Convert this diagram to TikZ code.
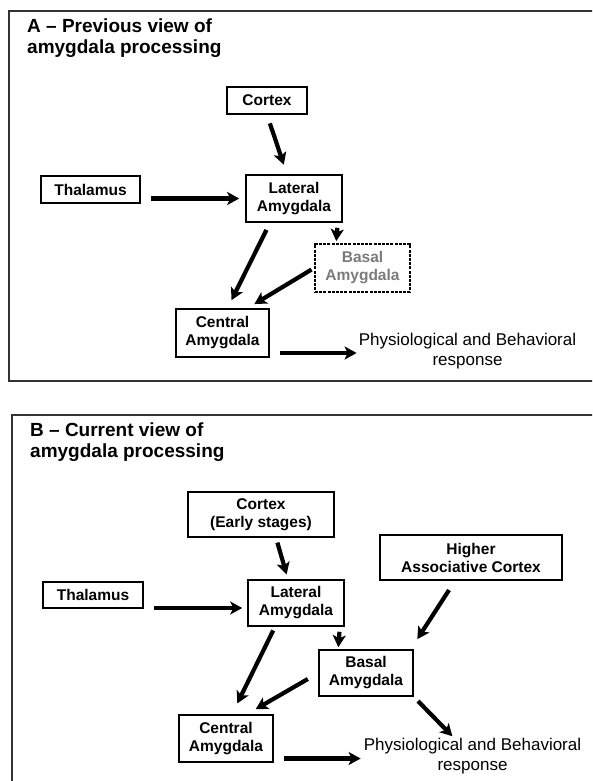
\documentclass[tikz,border=0pt]{standalone}
\usepackage{fontspec}
\setmainfont{Liberation Sans}
\usetikzlibrary{arrows.meta, calc}

\begin{document}
\begin{tikzpicture}[x=1pt, y=-1pt,
    box/.style={draw, line width=1.6pt, inner sep=0pt, align=center, font=\bfseries\fontsize{15.5}{18}\selectfont},
    dbox/.style={box, line width=1.8pt, dash pattern=on 3pt off 1.2pt, text=black!52},
    arr/.style={line width=4.2pt, -{Stealth[length=12pt, width=13pt, inset=3pt]}},
    panel/.style={draw=black!80, line width=1.5pt},
    ttl/.style={anchor=north west, inner sep=0pt, align=left, font=\bfseries\fontsize{19}{20.5}\selectfont},
    resp/.style={align=center, inner sep=0pt, font=\fontsize{17}{20}\selectfont}]
      \useasboundingbox (0,0) rectangle (592,781);
      \clip (0,0) rectangle (592,781);

      % panel A
      \draw[panel] (600,11) -- (9,11) -- (9,381) -- (600,381);
      \node[ttl] (titleA) at (27,19) {A -- Previous view of\\amygdala processing};
      \node[box, minimum width=80, minimum height=27] (cortA) at (267,100.5) {Cortex};
      \node[box, minimum width=99, minimum height=27] (thalA) at (90.5,189.5) {Thalamus};
      \node[box, minimum width=96, minimum height=47] (latA) at (294,198.5) {Lateral\\Amygdala};
      \node[dbox, minimum width=95, minimum height=48] (basA) at (362.5,268) {Basal\\Amygdala};
      \node[box, minimum width=93, minimum height=48] (centA) at (222.5,333) {Central\\Amygdala};
      \node[resp] (respA) at (467.5,351) {Physiological and Behavioral\\response};
      \draw[arr, shorten <=9pt, shorten >=10pt] (cortA.south) -- ($(latA.north)+(-7,0)$);
      \draw[arr, shorten <=10pt, shorten >=6pt] (thalA.east |- latA.west) -- (latA.west);
      \draw[arr, shorten <=5pt, shorten >=2pt] ($(latA.south east)+(-5,0)$) -- ($(basA.north west)+(22,0)$);
      \draw[arr, shorten <=8pt, shorten >=9pt] ($(latA.south)+(-24,0)$) -- ($(centA.north)+(5,0)$);
      \draw[arr, shorten <=3pt, shorten >=8pt] (basA.west) -- ($(centA.north)+(25,0)$);
      \draw[arr, shorten <=10pt, shorten >=2pt] ([yshift=-20pt]centA.east) -- ([yshift=-20pt]centA.east -| respA.west);

      % panel B
      \draw[panel] (600,415) -- (12,415) -- (12,790);
      \node[ttl] (titleB) at (30,423) {B -- Current view of\\amygdala processing};
      \node[box, minimum width=146, minimum height=45] (cortB) at (261,514.5) {Cortex\\(Early stages)};
      \node[box, minimum width=182, minimum height=45] (highB) at (471,557.5) {Higher\\Associative Cortex};
      \node[box, minimum width=100, minimum height=26] (thalB) at (93,595) {Thalamus};
      \node[box, minimum width=96, minimum height=46] (latB) at (296,603) {Lateral\\Amygdala};
      \node[box, minimum width=94, minimum height=46] (basB) at (366,673) {Basal\\Amygdala};
      \node[box, minimum width=94, minimum height=47] (centB) at (226,738.5) {Central\\Amygdala};
      \node[resp] (respB) at (472.5,756.5) {Physiological and Behavioral\\response};
      \draw[arr, shorten <=5pt, shorten >=5pt] ($(cortB.south)+(15,0)$) -- ($(latB.north)+(-8,0)$);
      \draw[arr, shorten <=10pt, shorten >=5pt] ([yshift=-5pt]thalB.east |- latB.west) -- ([yshift=-5pt]latB.west);
      \draw[arr, shorten <=5pt, shorten >=2pt] ($(latB.south east)+(-5,0)$) -- ($(basB.north west)+(20,0)$);
      \draw[arr, shorten <=4pt, shorten >=12pt] ($(latB.south)+(-21,0)$) -- ($(centB.north)+(6,0)$);
      \draw[arr, shorten <=12pt, shorten >=10pt] (basB.west) -- ($(centB.north)+(21,0)$);
      \draw[arr, shorten <=10pt, shorten >=3pt] ([yshift=-20pt]centB.east) -- ([yshift=-20pt]centB.east -| respB.west);
      \draw[arr, shorten <=11pt, shorten >=12pt] ($(highB.south)+(-16,0)$) -- ($(basB.north east)+(-3,0)$);
      \draw[arr, shorten <=6pt, shorten >=3pt] (basB.south east) -- ($(respB.north)+(-18,0)$);
    \end{tikzpicture}
\end{document}
